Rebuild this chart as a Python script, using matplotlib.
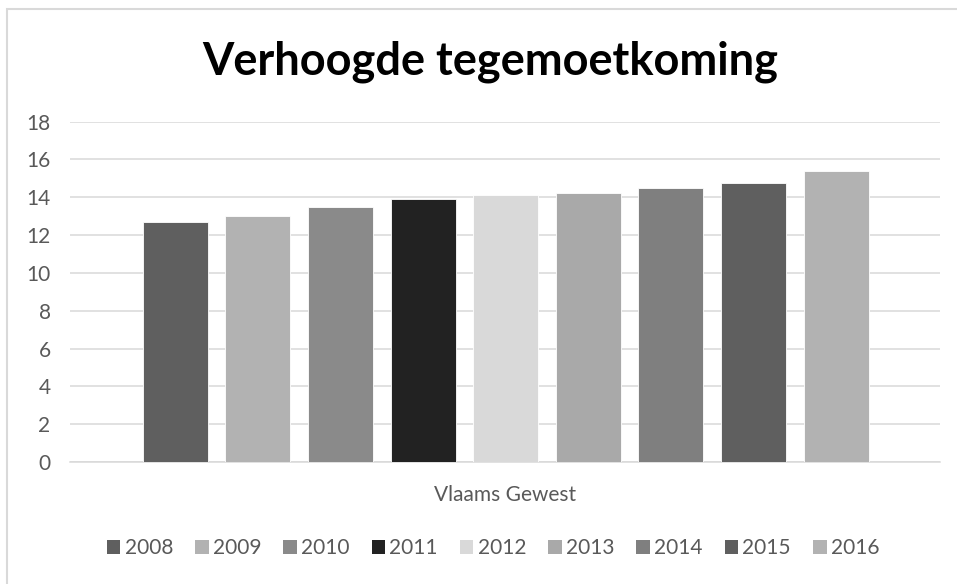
import matplotlib
matplotlib.use("Agg")
import matplotlib.pyplot as plt
from matplotlib.patches import Rectangle, Patch

# Data
years = ["2008", "2009", "2010", "2011", "2012", "2013", "2014", "2015", "2016"]
values = [12.69, 13.02, 13.49, 13.90, 14.09, 14.23, 14.49, 14.76, 15.37]
colors = ["#5f5f5f", "#b2b2b2", "#8a8a8a", "#222222", "#d9d9d9",
          "#a9a9a9", "#7f7f7f", "#5f5f5f", "#b2b2b2"]
category = "Vlaams Gewest"
yticks = [0, 2, 4, 6, 8, 10, 12, 14, 16, 18]

txt_color = "#595959"
grid_color = "#d9d9d9"
font = "Lato"

W, H = 957, 584
fig = plt.figure(figsize=(W / 100, H / 100), dpi=100)

# Axes placed in pixel terms from the reference
ax_left, ax_right, ax_bottom, ax_top = 70, 940, 462, 121.5
ax = fig.add_axes([ax_left / W, 1 - ax_bottom / H,
                   (ax_right - ax_left) / W, (ax_bottom - ax_top) / H])

x = list(range(len(years)))
for i in x:
    ax.bar(i, values[i], width=0.787, color=colors[i],
           edgecolor="#ffffff", linewidth=0.6, zorder=3)

ax.set_xlim(-1.275, 9.259)
ax.set_ylim(0, 18)
ax.set_yticks(yticks)
ax.set_yticklabels([str(t) for t in yticks], fontfamily=font, fontsize=15, color=txt_color)
ax.tick_params(axis="y", length=0, pad=14)
ax.set_xticks([])
ax.grid(axis="y", color=grid_color, linewidth=1.1, zorder=0)
for side in ["top", "right", "left"]:
    ax.spines[side].set_visible(False)
ax.spines["bottom"].set_color(grid_color)
ax.spines["bottom"].set_linewidth(1.1)

# category label under the axis
fig.text(505 / W, 1 - 495 / H, category, ha="center", va="center",
         fontfamily=font, fontsize=15, color=txt_color)

# title
fig.text(490 / W, 1 - 62 / H, "Verhoogde tegemoetkoming", ha="center", va="center",
         fontfamily=font, fontweight="bold", fontsize=32.5, color="#000000")

# legend
handles = [Patch(facecolor=c, edgecolor="none") for c in colors]
fig.legend(handles, years, loc="center", bbox_to_anchor=(493 / W, 1 - 548 / H),
           ncol=len(years), frameon=False, handlelength=0.65, handleheight=0.65,
           handletextpad=0.2, columnspacing=1.06,
           prop={"family": font, "size": 15}, labelcolor=txt_color)

# chart-area border (cut off on the right and bottom in the reference)
fig.patches.append(Rectangle((7.5 / W, -0.2), 1.3, 1.2 - 8.5 / H,
                             transform=fig.transFigure, fill=False,
                             edgecolor=grid_color, linewidth=1.5))

fig.savefig("out.png", dpi=100, facecolor="white")
